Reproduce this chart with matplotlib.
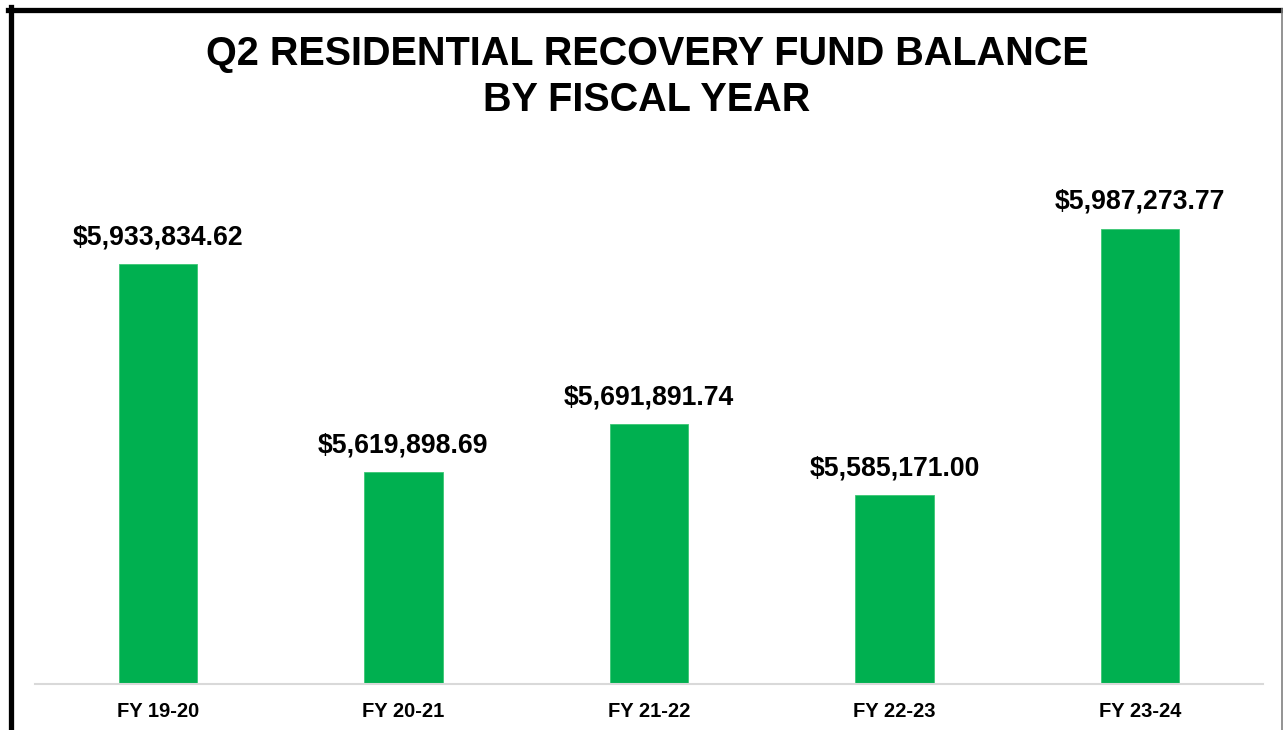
import matplotlib
matplotlib.use("Agg")
import matplotlib.pyplot as plt
from matplotlib.lines import Line2D

plt.rcParams['font.family'] = ['Liberation Sans', 'DejaVu Sans']

## data
years = ["FY 19-20", "FY 20-21", "FY 21-22", "FY 22-23", "FY 23-24"]
balances = [5933834.62, 5619898.69, 5691891.74, 5585171.00, 5987273.77]
title = "Q2 RESIDENTIAL RECOVERY FUND BALANCE\nBY FISCAL YEAR"

fig = plt.figure(figsize=(12.83, 7.30), dpi=100)
ax = fig.add_axes([35 / 1283, 1 - 684 / 730, 1228 / 1283, (684 - 154) / 730])

x = list(range(len(years)))
bars = ax.bar(x, balances, width=0.32, color="#00B050", edgecolor="#3cc774", linewidth=0.6, zorder=2)

for b, v in zip(bars, balances):
    ax.annotate("${:,.2f}".format(v), (b.get_x() + b.get_width() / 2, v),
                xytext=(0, 10), textcoords="offset points",
                ha="center", va="bottom", fontsize=19.2, fontweight="bold")

ax.set_ylim(5300000, 6100000)
ax.set_xlim(-0.5, len(years) - 0.5)
ax.set_xticks(x)
ax.set_xticklabels(years, fontsize=14.5, fontweight="bold")
ax.tick_params(axis="x", length=0, pad=13)
ax.set_yticks([])
for s in ["top", "right", "left"]:
    ax.spines[s].set_visible(False)
ax.spines["bottom"].set_color("#d9d9d9")
ax.spines["bottom"].set_linewidth(1.5)

fig.text(647 / 1283, 1 - 77 / 730, title, ha="center", va="center",
         fontsize=28.5, fontweight="bold", linespacing=1.29)

# frame round the picture
fig.add_artist(Line2D([8 / 1283, 1], [1 - 9.5 / 730] * 2, color="black", lw=3.8))
fig.add_artist(Line2D([10.5 / 1283] * 2, [0, 1 - 7 / 730], color="black", lw=3.8))
fig.add_artist(Line2D([1281.5 / 1283] * 2, [0, 1 - 9 / 730], color="#808080", lw=1.2))

fig.savefig("out.png", dpi=100)
